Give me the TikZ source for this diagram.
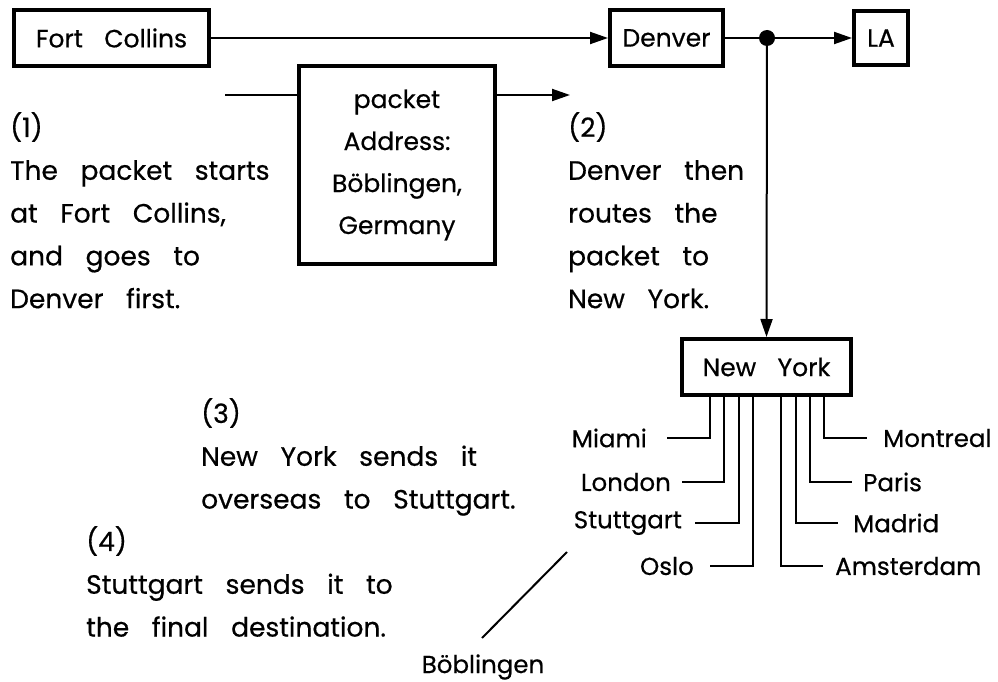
\documentclass[tikz,border=0pt]{standalone}
\usepackage{fontspec}
\setmainfont{Poppins}[WordSpace=3.2,FakeBold=0.5]
\usetikzlibrary{arrows.meta}
\begin{document}
\begin{tikzpicture}[x=1pt,y=-1pt,
  box/.style={draw,line width=4pt,inner sep=0pt,font=\fontsize{25}{42}\selectfont},
  conn/.style={line width=2pt},
  arr/.style={line width=2pt,-{Triangle[length=18pt,width=12pt]}},
  txt/.style={inner sep=0pt,align=left,font=\fontsize{26.5}{42.8}\selectfont},
  lbl/.style={inner sep=0pt,font=\fontsize{24.5}{30}\selectfont}]
\useasboundingbox (0,0) rectangle (998,682);
\node[box,minimum width=195pt,minimum height=56pt] (fc) at (111.5,38) {Fort Collins};
\node[box,minimum width=113pt,minimum height=56pt] (den) at (666.5,38) {Denver};
\node[box,minimum width=54pt,minimum height=54pt] (la) at (881,38) {LA};
\node[box,minimum width=196pt,minimum height=197pt,align=center] (pk) at (397,165) {packet\\Address:\\Böblingen,\\Germany};
\node[box,minimum width=169pt,minimum height=56pt] (ny) at (766.5,367) {New York};
\fill (767,38) circle (8pt) coordinate (dot);
\draw[arr] (fc.east) -- (den.west);
\draw[conn] (den.east) -- (dot);
\draw[arr] (dot) -- (la.west);
\draw[arr] (dot) -- (ny.north);
\coordinate (pin) at (225,95);
\coordinate (pout) at (570,95);
\draw[conn] (pin) -- (pin -| pk.west);
\draw[arr] (pk.east |- pout) -- (pout);
% text blocks
\node[txt,anchor=north west] (t1) at (10,112) {(1)\\The packet starts\\at Fort Collins,\\and goes to\\Denver first.};
\node[txt,anchor=north west] (t2) at (568,112) {(2)\\Denver then\\routes the\\packet to\\New York.};
\node[txt,anchor=north west] (t3) at (201,398) {(3)\\New York sends it\\overseas to Stuttgart.};
\node[txt,anchor=north west] (t4) at (86,526) {(4)\\Stuttgart sends it to\\the final destination.};
% branches
\node[lbl,anchor=east] (mia) at (647,438) {Miami};
\node[lbl,anchor=east] (lon) at (671,482) {London};
\node[lbl,anchor=east] (stu) at (682,523) {Stuttgart};
\node[lbl,anchor=east] (osl) at (694,566) {Oslo};
\node[lbl,anchor=west] (mon) at (883,438) {Montreal};
\node[lbl,anchor=west] (par) at (863,482) {Paris};
\node[lbl,anchor=west] (mad) at (853,523) {Madrid};
\node[lbl,anchor=west] (ams) at (835,566) {Amsterdam};
\draw[conn] ([xshift=-56.5pt]ny.south) |- ([xshift=20pt]mia.east);
\draw[conn] ([xshift=-42.5pt]ny.south) |- ([xshift=11pt]lon.east);
\draw[conn] ([xshift=-27.5pt]ny.south) |- ([xshift=13pt]stu.east);
\draw[conn] ([xshift=-13.5pt]ny.south) |- ([xshift=16pt]osl.east);
\draw[conn] ([xshift=57.5pt]ny.south) |- ([xshift=-16pt]mon.west);
\draw[conn] ([xshift=43.5pt]ny.south) |- ([xshift=-11pt]par.west);
\draw[conn] ([xshift=29.5pt]ny.south) |- ([xshift=-15pt]mad.west);
\draw[conn] ([xshift=14.5pt]ny.south) |- ([xshift=-12pt]ams.west);
\node[lbl] (bob) at (483,667) {Böblingen};
\coordinate (bl1) at (567,552);
\coordinate (bl2) at (482,638);
\draw[conn] (bl1) -- (bl2);
\end{tikzpicture}
\end{document}
